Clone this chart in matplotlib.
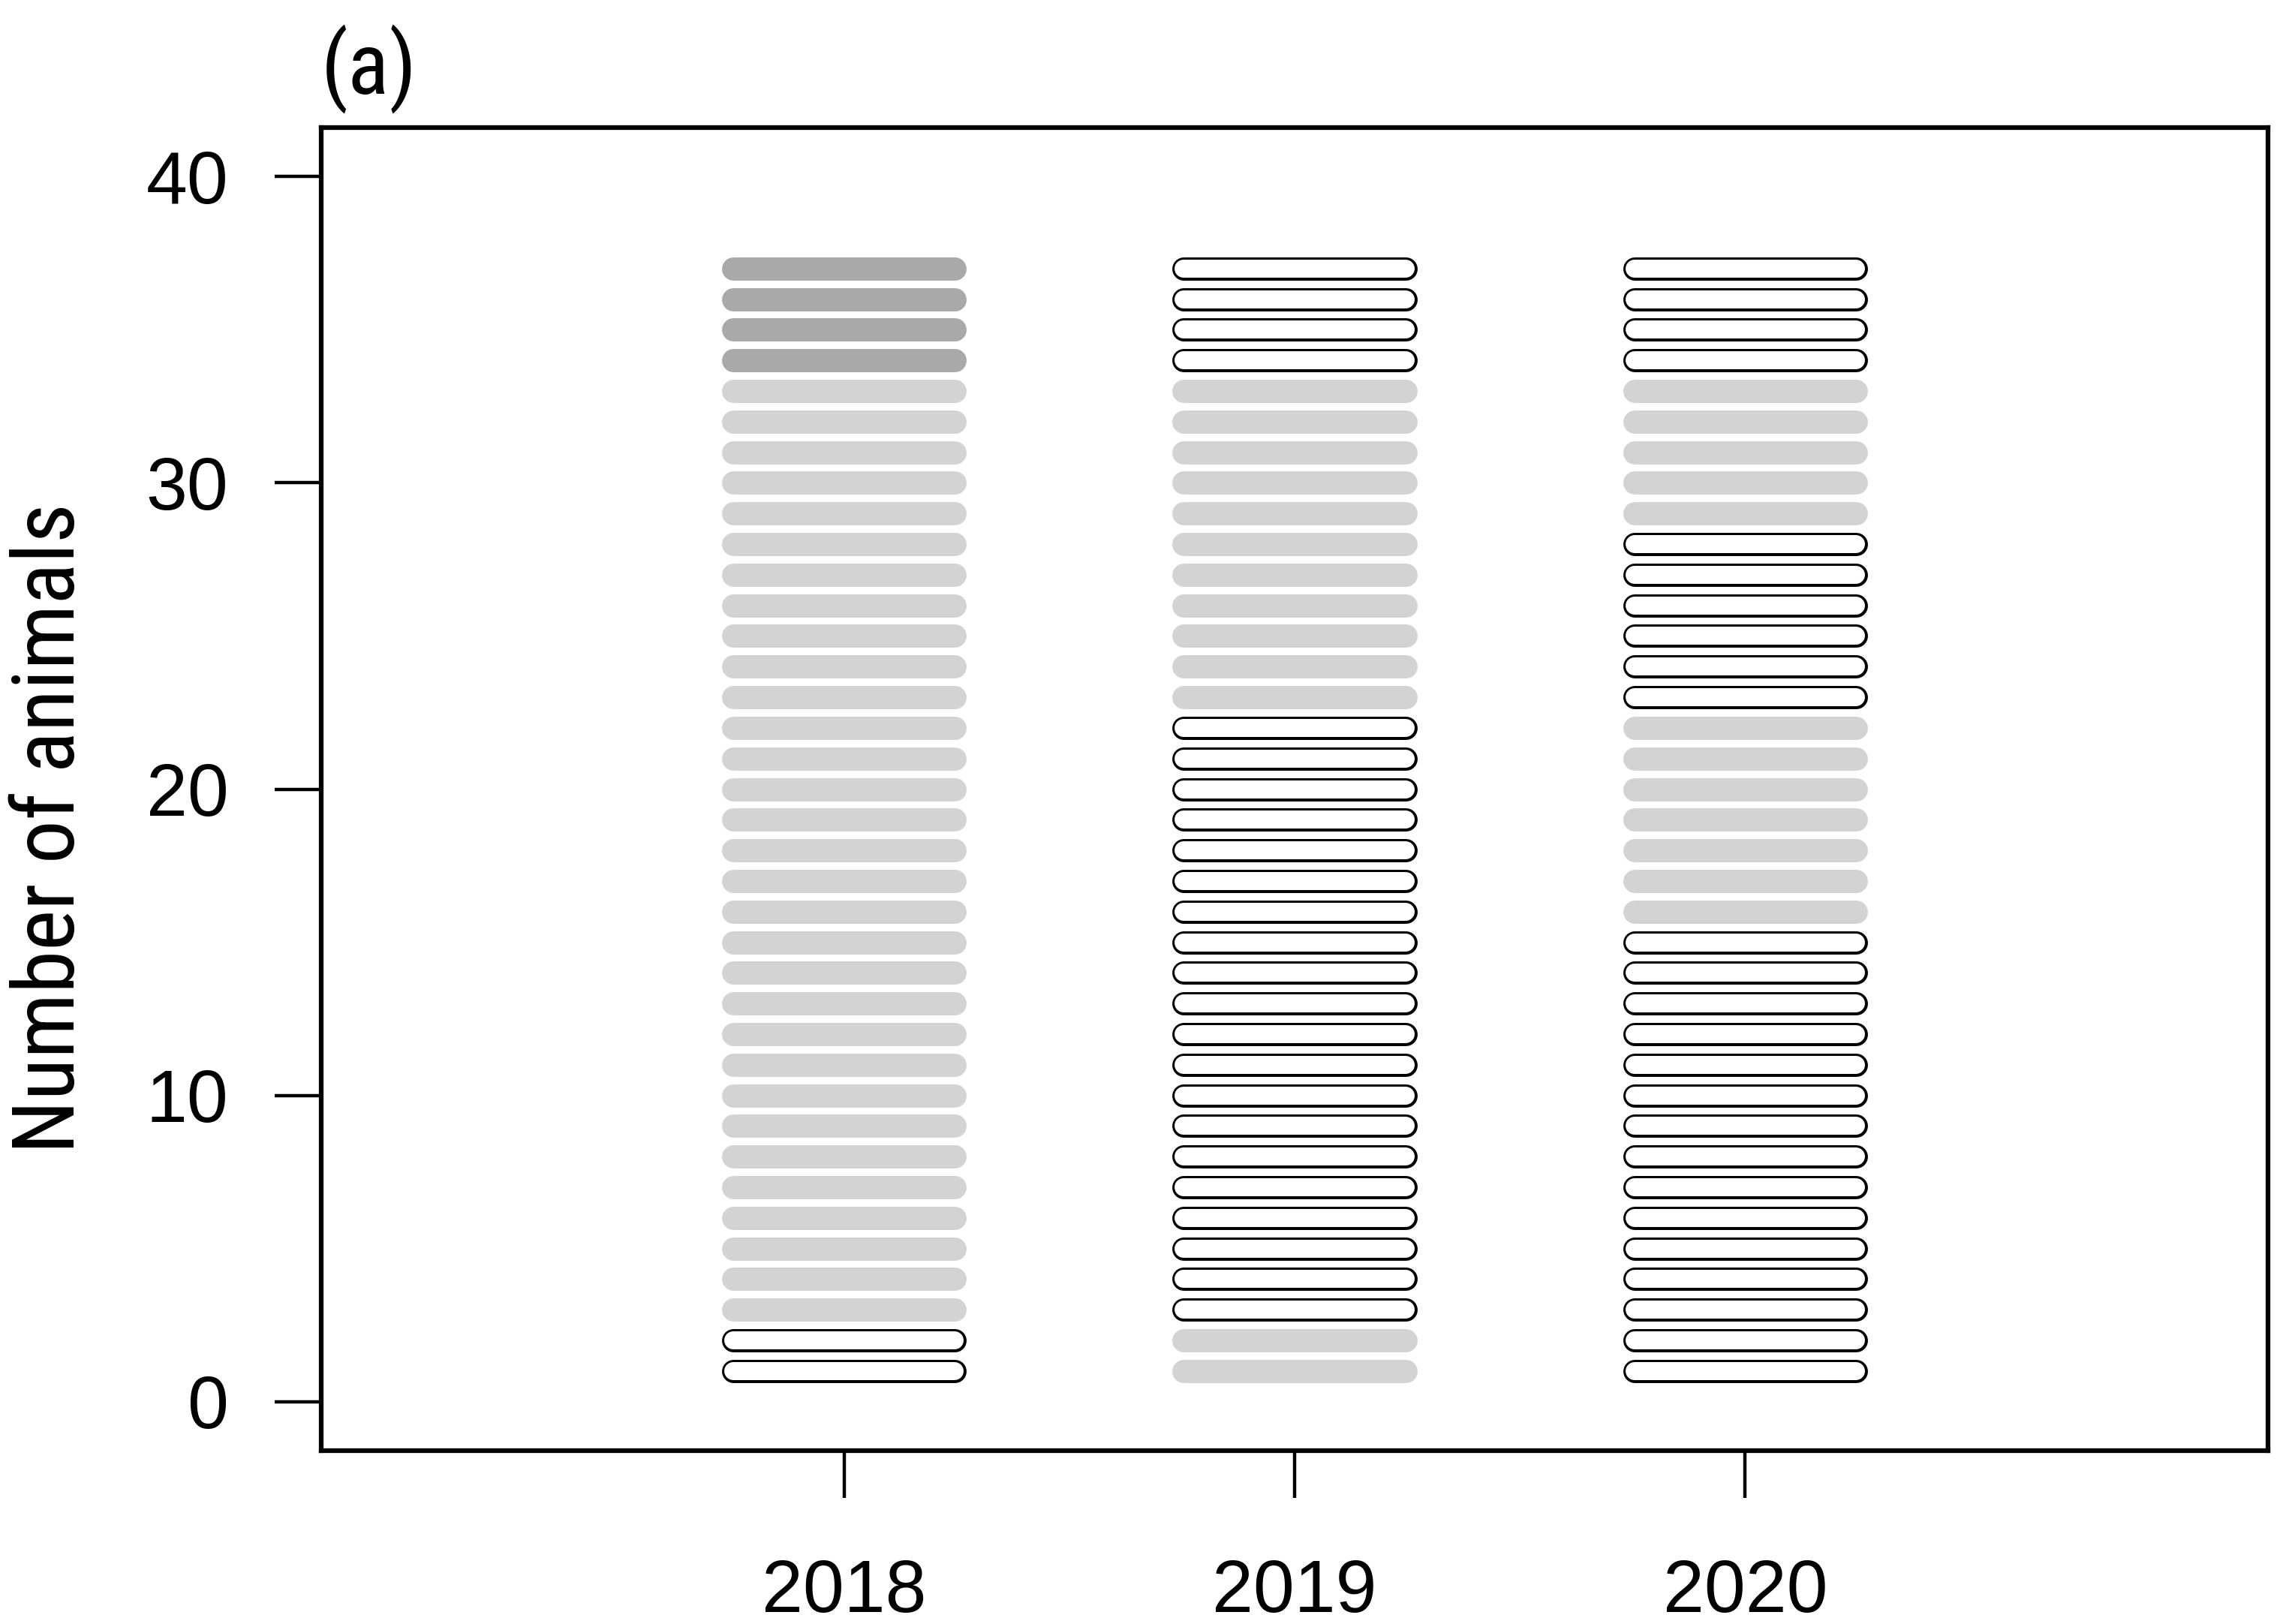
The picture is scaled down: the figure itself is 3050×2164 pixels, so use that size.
import os
import matplotlib
matplotlib.use('Agg')
import matplotlib.pyplot as plt
from matplotlib import font_manager
from matplotlib.font_manager import FontProperties

years = ['2018', '2019', '2020']
x_pos = [1, 2, 3]
yticks = [0, 10, 20, 30, 40]

# animal runs: (first animal, last animal, status)
# W = open/outlined, L = light grey, D = dark grey
runs_2018 = [(1, 2, 'W'), (3, 33, 'L'), (34, 37, 'D')]
runs_2019 = [(1, 2, 'L'), (3, 22, 'W'), (23, 33, 'L'), (34, 37, 'W')]
runs_2020 = [(1, 15, 'W'), (16, 22, 'L'), (23, 28, 'W'), (29, 33, 'L'), (34, 37, 'W')]

fills = {'L': '#d3d3d3', 'D': '#a9a9a9'}
half = 0.246      # half length of a pill (without caps)
lw_pill = 22.3    # pt
lw_inner = 17.3


def pick_narrow():
    # look for a narrow / condensed sans, label and "(a)" are drawn narrow
    skip = ('bold', 'italic', 'oblique', 'light', 'thin', 'medium', 'black',
            'semibold', 'extrabold', 'heavy', 'cjk', 'mono', 'serif')
    cands = []
    for f in font_manager.fontManager.ttflist:
        fn = os.path.basename(f.fname).lower()
        nm = f.name.lower()
        if any(k in fn for k in skip) or 'mono' in nm or 'serif' in nm:
            continue
        if f.style != 'normal':
            continue
        key = fn + ' ' + nm + ' ' + str(f.stretch)
        if 'narrow' in key or 'condensed' in key:
            cands.append(f)
    order = ['liberation', 'arial', 'roboto', 'noto', 'open', 'dejavu']
    def rank(f):
        key = (os.path.basename(f.fname) + ' ' + f.name).lower()
        r = next((i for i, k in enumerate(order) if k in key), len(order))
        extra = 1 if ('semi' in key or 'extra' in key or 'ultra' in key) else 0
        return (extra, r)
    cands.sort(key=rank)
    if cands:
        return FontProperties(fname=cands[0].fname)
    return FontProperties(family='Liberation Sans')


narrow_fp = pick_narrow()

fig = plt.figure(figsize=(30.5, 21.64), dpi=100)
ax = fig.add_axes([428/3050, 1 - 1933/2164, (3022-428)/3050, (1933-170)/2164])

for xp, runs in zip(x_pos, [runs_2018, runs_2019, runs_2020]):
    for a, b, st in runs:
        for n in range(a, b + 1):
            xs = [xp - half, xp + half]
            ys = [n, n]
            if st == 'W':
                ax.plot(xs, ys, color='black', lw=lw_pill, solid_capstyle='round')
                ax.plot(xs, ys, color='white', lw=lw_inner, solid_capstyle='round')
            else:
                ax.plot(xs, ys, color=fills[st], lw=lw_pill, solid_capstyle='round')

ax.set_xlim(-0.16, 4.16)
ax.set_ylim(-1.6, 41.6)
ax.set_xticks(x_pos, years)
ax.set_yticks(yticks, [str(v) for v in yticks])
for s in ax.spines.values():
    s.set_linewidth(4.5)
ax.tick_params(length=45, width=3.2, labelsize=71)
ax.tick_params(axis='x', pad=59)
ax.tick_params(axis='y', pad=44)
for lab in ax.get_xticklabels() + ax.get_yticklabels():
    lab.set_family('Liberation Sans')

ylab = fig.text(68/3050, 1 - 1104/2164, 'Number of animals', rotation=90,
                ha='center', va='center', fontproperties=narrow_fp)
ylab.set_fontsize(90)
panel = fig.text(428/3050, 1 - 92/2164, '(a)', ha='left', va='center',
                 fontproperties=narrow_fp)
panel.set_fontsize(90)

# fit the narrow texts to the measured lengths in the reference
rend = fig.canvas.get_renderer()
bb = ylab.get_window_extent(renderer=rend)
ylab.set_fontsize(90 * 866 / bb.height)
bb = panel.get_window_extent(renderer=rend)
panel.set_fontsize(90 * 128 / bb.width)

fig.savefig('out.png', dpi=100)
